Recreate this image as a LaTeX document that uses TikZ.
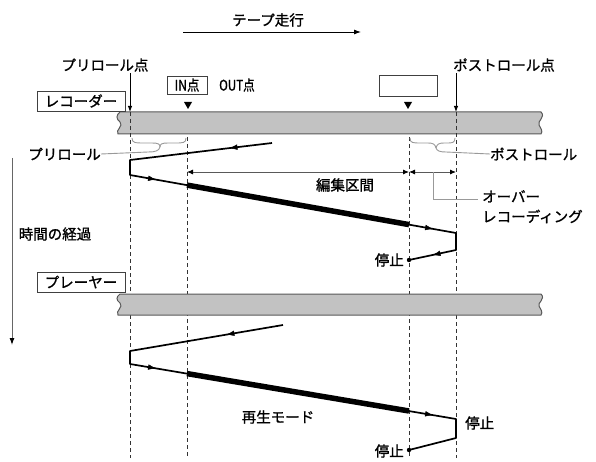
\documentclass[tikz,border=0pt]{standalone}
\usepackage{fontspec}
\setmainfont{Noto Sans CJK JP}
\newfontfamily\jpb{Noto Sans CJK JP}[FakeBold=1.2]
\usetikzlibrary{arrows.meta,decorations.markings}
\begin{document}
\begin{tikzpicture}[x=1pt,y=-1pt,
  lbl/.style={inner sep=0pt,font=\jpb\fontsize{14.5}{17}\selectfont},
  boxlbl/.style={draw=black!75,line width=0.9pt,inner sep=0pt,minimum height=20pt,font=\jpb\fontsize{14.5}{17}\selectfont},
  tapestyle/.style={fill=black!24,draw=black!65,line width=1pt},
  guide/.style={dash pattern=on 4pt off 3pt,line width=0.8pt,black!80},
  lead/.style={black!40,line width=0.9pt},
  track/.style={line width=1.7pt,line join=round},
  thickseg/.style={line width=5.5pt},
  dim/.style={black!65,line width=0.9pt,{Latex[length=6pt,width=5pt,black]}-{Latex[length=6pt,width=5pt,black]}},
  pointer/.style={line width=0.9pt,-{Latex[length=6pt,width=4.5pt]}},
  midarrow/.style={postaction={decorate},decoration={markings,mark=at position #1 with {\arrow{Latex[length=8pt,width=5.5pt]}}}}
]
\useasboundingbox (0,0) rectangle (596,462);

% --- tape 1 (recorder) ---
\path[tapestyle] (120,112) -- (541,112) .. controls (546,117) and (537,121) .. (539,125) .. controls (541,129) and (543,131) .. (541,134) -- (118,134) .. controls (115,130) and (124,126) .. (120,122) .. controls (116,119) and (116,115) .. (120,112) -- cycle;

% --- guide lines ---
\coordinate (gA0) at (130,112); \coordinate (gA1) at (130,458);
\coordinate (gB0) at (187,137); \coordinate (gB1) at (187,458);
\coordinate (gC0) at (409,137); \coordinate (gC1) at (409,458);
\coordinate (gD0) at (456,112); \coordinate (gD1) at (456,458);
\draw[guide] (gA0) -- (gA1);
\draw[guide] (gB0) -- (gB1);
\draw[guide] (gC0) -- (gC1);
\draw[guide] (gD0) -- (gD1);

% --- tape 2 (player) ---
\path[tapestyle] (120,294) -- (541,294) .. controls (546,299) and (537,303) .. (539,306) .. controls (541,310) and (543,312) .. (541,315) -- (118,315) .. controls (115,311) and (124,307) .. (120,303) .. controls (116,300) and (116,297) .. (120,294) -- cycle;

% --- title arrow ---
\node[lbl] (title) at (268,20) {テープ走行};
\coordinate (ta0) at (183,32); \coordinate (ta1) at (361,32);
\draw[line width=0.9pt,-{Latex[length=7pt,width=5pt]}] (ta0) -- (ta1);

% --- top labels ---
\node[lbl] (prept) at (105,65) {プリロール点};
\node[lbl] (postpt) at (504,65) {ポストロール点};
\coordinate (preA) at (130,73); \coordinate (preB) at (130,112);
\coordinate (postA) at (456,73); \coordinate (postB) at (456,112);
\draw[pointer] (preA) -- (preB);
\draw[pointer] (postA) -- (postB);

\node[boxlbl,minimum width=40pt,minimum height=18pt] (inbox) at (187,85) {\scalebox{0.85}[1]{IN点}};
\node[lbl] (outpt) at (237,85) {\scalebox{0.8}[1]{OUT点}};
\node[draw=black!75,line width=0.9pt,minimum width=58pt,minimum height=21pt,inner sep=0pt] (emptybox) at (408,86) {};

\node[boxlbl,minimum width=88pt] (rec) at (81,101) {レコーダー};
\node[boxlbl,minimum width=88pt] (ply) at (81,282) {プレーヤー};

% small triangles (IN / OUT marks)
\fill (184,102) -- (192,102) -- (188,109) -- cycle;
\fill (404,102) -- (412,102) -- (408,109) -- cycle;

% --- preroll / postroll braces ---
\coordinate (brA) at (160,147);
\draw[lead] (132,138) .. controls (132,143) and (135,143) .. (145,143) -- (152,143) .. controls (158,143) and (160,144) .. (brA);
\draw[lead] (186,138) .. controls (186,143) and (183,143) .. (175,143) -- (168,143) .. controls (162,143) and (160,144) .. (brA);
\node[lbl,anchor=east] (prel) at (101,154) {プリロール};
\draw[lead] (brA) .. controls (159,151) and (155,152) .. (148,152) -- (prel.east);

\coordinate (brB) at (436,148);
\draw[lead] (410,138) .. controls (410,143) and (413,143) .. (420,143) -- (428,143) .. controls (433,143) and (435,144) .. (brB);
\draw[lead] (455,138) .. controls (455,143) and (452,143) .. (447,143) -- (444,143) .. controls (439,143) and (437,144) .. (brB);
\node[lbl,anchor=west] (postl) at (490,154) {ポストロール};
\draw[lead] (brB) .. controls (437,151) and (440,152) .. (446,152) -- (postl.west);

% --- edit interval dimension ---
\coordinate (e1) at (187,172); \coordinate (e2) at (409,172); \coordinate (e3) at (456,172);
\draw[dim] (e1) -- (e2);
\draw[dim] (e2) -- (e3);
\node[lbl] (edit) at (345,185) {編集区間};
\coordinate (ov0) at (433,172); \coordinate (ov1) at (433,199); \coordinate (ov2) at (478,199);
\node[lbl,anchor=north west,align=left,font=\jpb\fontsize{14.5}{20}\selectfont] (over) at (482,190) {オーバー\\レコーディング};
\draw[lead] (ov0) -- (ov1) -- (ov2);

% --- time arrow ---
\coordinate (tm0) at (12,158); \coordinate (tm1) at (12,345);
\draw[black!60,line width=1pt,-{Latex[length=7pt,width=5pt,black]}] (tm0) -- (tm1);
\node[lbl] (time) at (55,234) {時間の経過};

% --- recorder track ---
\coordinate (r0) at (272,143); \coordinate (r1) at (130,160);
\coordinate (r2) at (130,175); \coordinate (r3) at (456,233);
\coordinate (r4) at (456,250); \coordinate (r5) at (409,260);
\coordinate (rt1) at (187,185.1); \coordinate (rt2) at (409,224.6);
\draw[track] (r0) -- (r1) -- (r2) -- (r3) -- (r4) -- (r5);
\draw[thickseg] (rt1) -- (rt2);
\path[midarrow=0.3] (r0) -- (r1);
\path[midarrow=0.08] (r2) -- (r3);
\path[midarrow=0.93] (r2) -- (r3);
\path[midarrow=0.5] (r4) -- (r5);
\fill (r5) circle (2.2pt);
\node[lbl,anchor=east] (stopA) at (404,260) {停止};

% --- player track ---
\coordinate (p0) at (283,325); \coordinate (p1) at (130,351);
\coordinate (p2) at (130,364); \coordinate (p3) at (456,419);
\coordinate (p4) at (456,438); \coordinate (p5) at (409,450);
\coordinate (pt1) at (187,373.6); \coordinate (pt2) at (409,411);
\draw[track] (p0) -- (p1) -- (p2) -- (p3) -- (p4) -- (p5);
\draw[thickseg] (pt1) -- (pt2);
\path[midarrow=0.37] (p0) -- (p1);
\path[midarrow=0.08] (p2) -- (p3);
\path[midarrow=0.93] (p2) -- (p3);
\fill (p5) circle (2.2pt);
\node[lbl,anchor=east] (stopB) at (404,451) {停止};
\node[lbl,anchor=west] (stopC) at (465,423) {停止};
\node[lbl] (play) at (278,417) {再生モード};

\end{tikzpicture}
\end{document}
